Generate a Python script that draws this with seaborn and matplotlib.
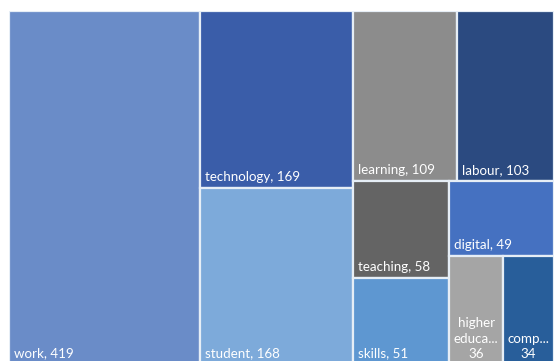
import matplotlib
matplotlib.use("Agg")
import matplotlib.pyplot as plt
import seaborn as sns

# Word frequencies shown as a treemap
categories = ["work", "technology", "student", "learning", "labour",
              "teaching", "skills", "digital", "higher education", "competences"]
values = [419, 169, 168, 109, 103, 58, 51, 49, 36, 34]
colors = ["#6A8CC8", "#3A5DA9", "#7DAADA", "#8C8C8C", "#2B4A80",
          "#646464", "#5E97D1", "#4571C1", "#A5A5A5", "#285E9A"]

sns.set_theme(style="white")
plt.rcParams["font.family"] = ["Lato", "DejaVu Sans"]

W, H = 545.0, 353.0


def worst(row, side):
    s = sum(row)
    return max(max(side * side * r / (s * s), s * s / (side * side * r)) for r in row)


def squarify(vals, x, y, w, h):
    total = sum(vals)
    areas = [v * w * h / total for v in vals]
    rects = []
    i = 0
    while i < len(areas):
        side = min(w, h)
        row = [areas[i]]
        j = i + 1
        while j < len(areas):
            last = (j == len(areas) - 1)
            if last or worst(row + [areas[j]], side) <= worst(row, side):
                row.append(areas[j])
                j += 1
            else:
                break
        s = sum(row)
        if w >= h:
            cw = s / h
            cy = y
            for a in row:
                rh = a / cw
                rects.append((x, cy, cw, rh))
                cy += rh
            x += cw
            w -= cw
        else:
            rh = s / w
            cx = x
            for a in row:
                rw = a / rh
                rects.append((cx, y, rw, rh))
                cx += rw
            y += rh
            h -= rh
        i = j
    return rects


rects = squarify(values, 0.0, 0.0, W, H)

fig = plt.figure(figsize=(5.57, 3.61), dpi=100)
fig.patch.set_facecolor("white")
ax = fig.add_axes([9 / 557, -3 / 361, 545 / 557, 353 / 361])
ax.set_xlim(0, W)
ax.set_ylim(H, 0)
ax.axis("off")

ax.bar([r[0] for r in rects], [r[3] for r in rects], width=[r[2] for r in rects],
       bottom=[r[1] for r in rects], align="edge", color=colors,
       edgecolor="#E6EEF6", linewidth=1.6)

renderer = fig.canvas.get_renderer()
fs = 9.6
pad = 6


def text_width(s):
    probe = ax.text(0, 0, s, fontsize=fs)
    wd = probe.get_window_extent(renderer).width
    probe.remove()
    return wd


for (x, y, w, h), name, val in zip(rects, categories, values):
    full = f"{name}, {val}"
    if text_width(full) <= w - 14:
        ax.text(x + 5, y + h - 5, full, color="white", fontsize=fs,
                ha="left", va="bottom")
        continue
    # narrow tile: wrap the name word by word, trimming a word that does not fit
    lines = []
    for word in name.split():
        if text_width(word) <= w - pad:
            lines.append(word)
            continue
        k = len(word)
        while k > 1 and text_width(word[:k] + "...") > w - pad:
            k -= 1
        lines.append(word[:k] + "...")
        break
    lines.append(str(val))
    ax.text(x + w / 2, y + h - 4, "\n".join(lines), color="white", fontsize=fs,
            ha="center", va="bottom", linespacing=1.35, multialignment="center")

fig.savefig("out.png", dpi=100, facecolor="white")
